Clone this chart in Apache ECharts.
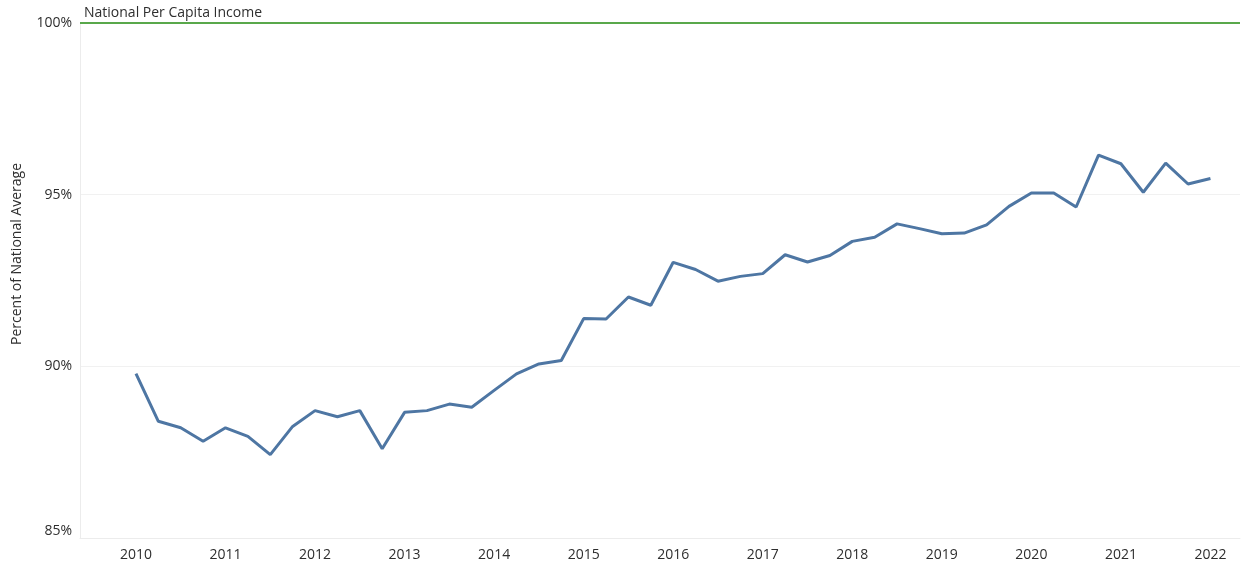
<!DOCTYPE html>
<html>
<head>
<meta charset="utf-8">
<script src="https://cdn.jsdelivr.net/npm/echarts@6/dist/echarts.min.js"></script>
<style>
  html, body { margin: 0; padding: 0; background: #fff; }
  #chart { width: 1244px; height: 571px; }
</style>
</head>
<body>
<div id="chart"></div>
<script>
// Quarterly per capita income as a percent of the national average, 2010 Q1 – 2022 Q1
const years = [2010, 2011, 2012, 2013, 2014, 2015, 2016, 2017, 2018, 2019, 2020, 2021, 2022];
const quarterValues = [
  89.79, 88.40, 88.21, 87.82,   // 2010
  88.21, 87.96, 87.43, 88.25,   // 2011
  88.71, 88.53, 88.71, 87.60,   // 2012
  88.66, 88.71, 88.90, 88.81,   // 2013
  89.30, 89.78, 90.07, 90.17,   // 2014
  91.39, 91.38, 92.02, 91.78,   // 2015
  93.03, 92.82, 92.48, 92.62,   // 2016
  92.70, 93.25, 93.04, 93.23,   // 2017
  93.64, 93.76, 94.15, 94.01,   // 2018
  93.86, 93.88, 94.12, 94.66,   // 2019
  95.05, 95.05, 94.64, 96.15,   // 2020
  95.90, 95.07, 95.92, 95.31,   // 2021
  95.47                         // 2022
];
const yTicks = [85, 90, 95, 100];
const nationalLevel = 100;
const nationalLabel = 'National Per Capita Income';
const axisTitle = 'Percent of National Average';

// Place each quarter at its fractional year position
const points = quarterValues.map((v, i) => [years[0] + i / 4, v]);

const chart = echarts.init(document.getElementById('chart'), null, { renderer: 'canvas' });
const textColor = '#2e2e2e';
const font = '"Open Sans", "Noto Sans", sans-serif';

chart.setOption({
  animation: false,
  grid: { left: 80, right: 4, top: 23, bottom: 33, containLabel: false },
  xAxis: {
    type: 'value',
    min: 2009.375,
    max: 2022.33,
    axisLine: { show: true, lineStyle: { color: '#ececec', width: 1 } },
    axisTick: { show: false },
    splitLine: { show: false },
    axisLabel: {
      customValues: years,
      color: textColor,
      fontSize: 14,
      fontWeight: 500,
      fontFamily: font,
      margin: 10,
      formatter: v => String(v)
    }
  },
  yAxis: {
    type: 'value',
    min: yTicks[0],
    max: yTicks[yTicks.length - 1],
    interval: 5,
    axisLine: { show: true, lineStyle: { color: '#ececec', width: 1 } },
    axisTick: { show: false },
    splitLine: { show: true, lineStyle: { color: '#f1f1f1', width: 1 } },
    axisLabel: {
      color: textColor,
      fontSize: 14,
      fontWeight: 500,
      fontFamily: font,
      margin: 8,
      verticalAlignMinLabel: 'bottom',
      formatter: v => v + '%'
    }
  },
  graphic: [{
    type: 'text',
    x: 17,
    y: 254,
    rotation: Math.PI / 2,
    style: {
      text: axisTitle,
      fill: textColor,
      font: '500 14px ' + font,
      align: 'center',
      verticalAlign: 'middle'
    }
  }],
  series: [{
    type: 'line',
    data: points,
    symbol: 'none',
    lineStyle: { color: '#4e76a3', width: 3 },
    markLine: {
      silent: true,
      symbol: ['none', 'none'],
      lineStyle: { color: '#59a84b', width: 2, type: 'solid' },
      label: {
        position: 'insideStartTop',
        formatter: nationalLabel,
        color: textColor,
        fontSize: 14,
        fontWeight: 500,
        fontFamily: font,
        distance: [4, 3]
      },
      data: [{ yAxis: nationalLevel }]
    }
  }]
});
</script>
</body>
</html>
